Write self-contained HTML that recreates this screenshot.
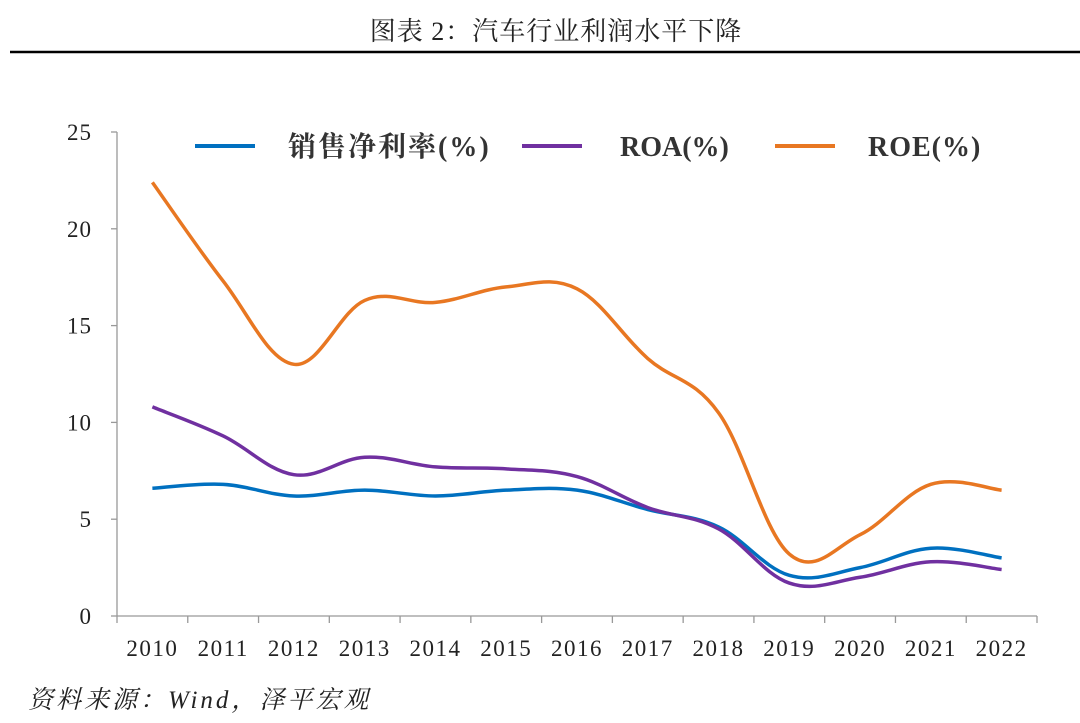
<!DOCTYPE html>
<html><head><meta charset="utf-8">
<style>
html,body{margin:0;padding:0;background:#fff;}
body{width:1080px;height:718px;overflow:hidden;position:relative;font-family:"Liberation Serif","Noto Serif CJK SC",serif;}
</style></head>
<body>
<svg width="1080" height="718" viewBox="0 0 1080 718" xmlns="http://www.w3.org/2000/svg">
<text x="556" y="40" font-size="26" text-anchor="middle" fill="#222" letter-spacing="1" font-family="Liberation Serif, Noto Serif CJK SC, serif">图表 2：汽车行业利润水平下降</text>
<line x1="10" y1="52" x2="1080" y2="52" stroke="#000" stroke-width="2.5"/>
<g id="axes"></g>
<g id="series"></g>
<g id="legend" font-weight="bold" font-size="28" fill="#333">
<line x1="195" y1="146" x2="255" y2="146" stroke="#0070C0" stroke-width="4"/>
<text x="288" y="156" font-family="Liberation Serif, Noto Serif CJK SC, serif" letter-spacing="2">销售净利率(%)</text>
<line x1="522" y1="146" x2="582" y2="146" stroke="#7030A0" stroke-width="4"/>
<text x="620" y="156">ROA(%)</text>
<line x1="775" y1="146" x2="835" y2="146" stroke="#E87722" stroke-width="4"/>
<text x="868" y="156" letter-spacing="1">ROE(%)</text>
</g>
<text x="28" y="708" font-size="25" font-style="italic" fill="#222" letter-spacing="3" font-family="Liberation Serif, Noto Serif CJK SC, serif">资料来源：Wind，泽平宏观</text>
</svg>
<script>
const categories=["2010","2011","2012","2013","2014","2015","2016","2017","2018","2019","2020","2021","2022"];
const netMargin=[6.6,6.8,6.2,6.5,6.2,6.5,6.5,5.5,4.6,2.1,2.5,3.5,3.0];
const roa=[10.8,9.3,7.3,8.2,7.7,7.6,7.2,5.6,4.5,1.7,2.0,2.8,2.4];
const roe=[22.4,17.3,13.0,16.3,16.2,17.0,16.9,13.3,10.5,3.2,4.2,6.8,6.5];
const yTicks=[0,5,10,15,20,25];
const NS="http://www.w3.org/2000/svg";
const x0=117,x1=1037,yBase=616,yTop=132,yMax=25;
const band=(x1-x0)/categories.length;
function xs(i){return x0+band*(i+0.5);}
function ys(v){return yBase-(v/yMax)*(yBase-yTop);}
function mk(t,a,p){const e=document.createElementNS(NS,t);for(const k in a)e.setAttribute(k,a[k]);p.appendChild(e);return e;}
const ax=document.getElementById('axes');
const yl=mk('line',{x1:x0,y1:yTop,x2:x0,y2:yBase,stroke:'#999','stroke-width':1.3},ax);


const xl=mk('line',{x1:x0,y1:yBase,x2:x1,y2:yBase,stroke:'#999','stroke-width':1.3},ax);


yTicks.forEach(v=>{
 const tk=mk('line',{x1:x0-6,y1:ys(v),x2:x0,y2:ys(v),stroke:'#999','stroke-width':1.3},ax);
 
 
 const t=mk('text',{x:92,y:ys(v)+8,'font-size':23,'letter-spacing':1,'text-anchor':'end',fill:'#222'},ax);
 t.textContent=v;
 
 
});
for(let i=0;i<=categories.length;i++){
 const tk=mk('line',{x1:x0+band*i,y1:yBase,x2:x0+band*i,y2:yBase+7,stroke:'#999','stroke-width':1.3},ax);
 
 
}
categories.forEach((c,i)=>{
 const t=mk('text',{x:xs(i),y:656,'font-size':23,'letter-spacing':1.5,'text-anchor':'middle',fill:'#222'},ax);
 t.textContent=c;
 
 
});
function path(vals){
 const p=vals.map((v,i)=>[xs(i),ys(v)]);
 let d='M'+p[0][0]+','+p[0][1];
 for(let i=0;i<p.length-1;i++){
  const a=p[Math.max(0,i-1)],b=p[i],c=p[i+1],e=p[Math.min(p.length-1,i+2)];
  const t=0.18;
  d+=' C'+(b[0]+(c[0]-a[0])*t)+','+(b[1]+(c[1]-a[1])*t)+' '+(c[0]-(e[0]-b[0])*t)+','+(c[1]-(e[1]-b[1])*t)+' '+c[0]+','+c[1];
 }
 return d;
}
const sg=document.getElementById('series');
const l1=mk('path',{d:path(netMargin),fill:'none',stroke:'#0070C0','stroke-width':3.5},sg);


const l2=mk('path',{d:path(roa),fill:'none',stroke:'#7030A0','stroke-width':3.5},sg);


const l3=mk('path',{d:path(roe),fill:'none',stroke:'#E87722','stroke-width':3.5},sg);


</script>
</body></html>
